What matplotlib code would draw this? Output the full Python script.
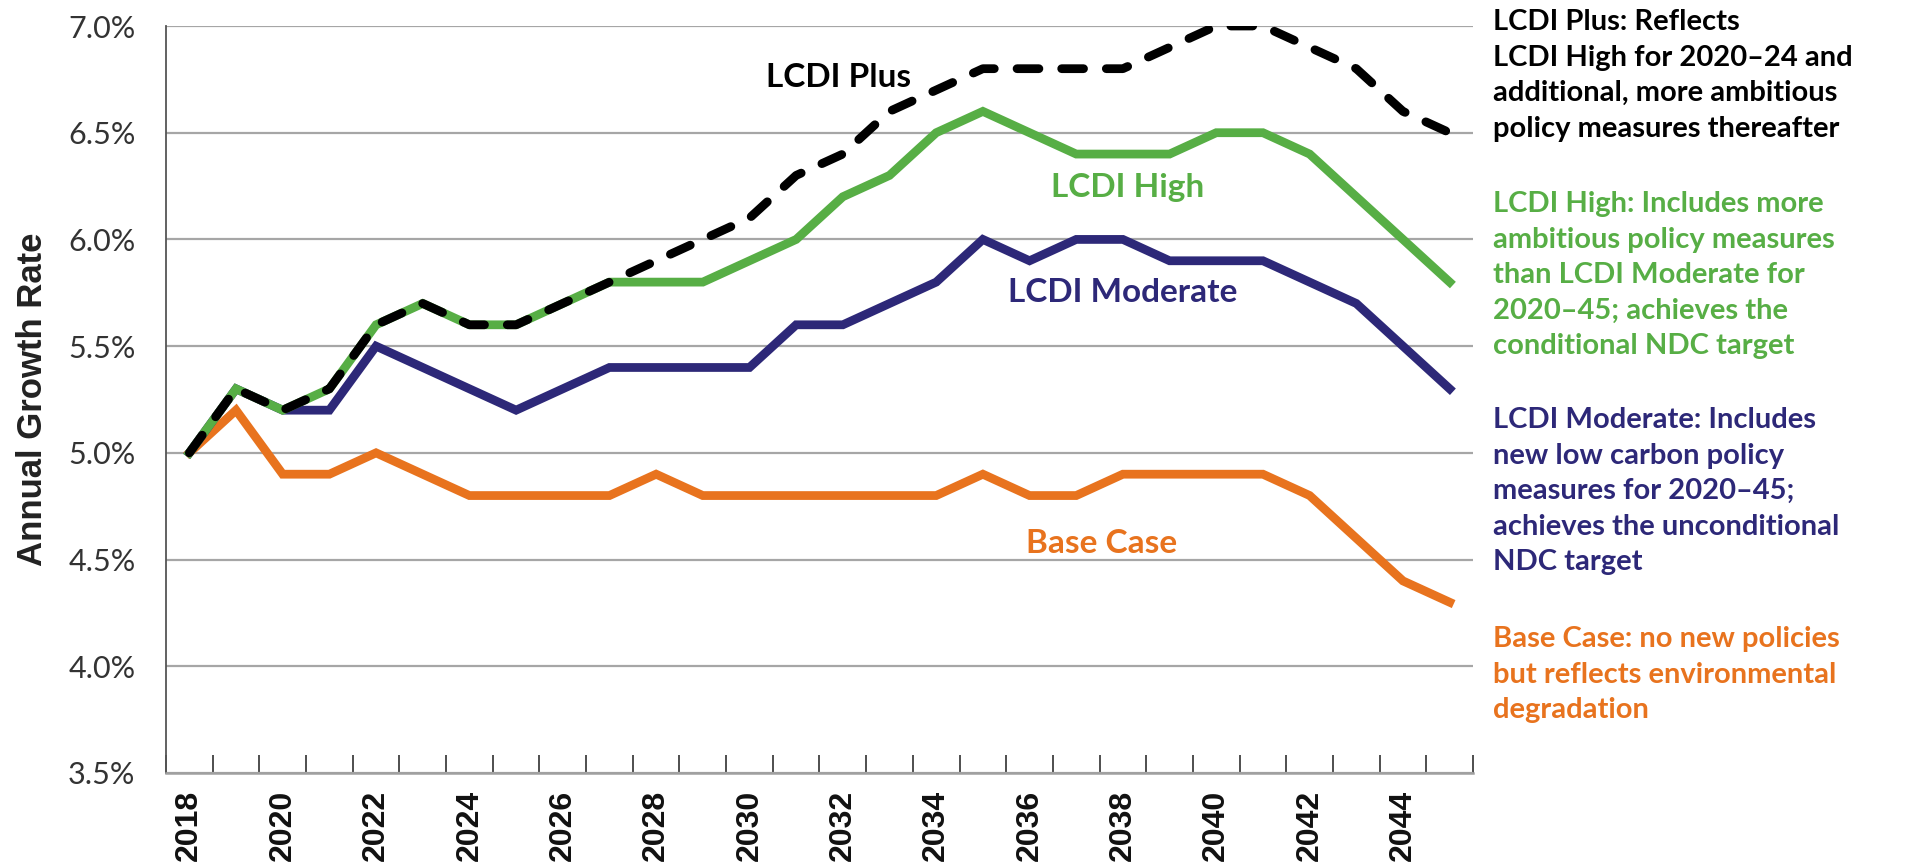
import matplotlib
matplotlib.use("Agg")
import matplotlib.pyplot as plt
from matplotlib.ticker import FixedLocator, FuncFormatter

years = list(range(2018, 2046))
base_case = [5.0, 5.2, 4.9, 4.9, 5.0, 4.9, 4.8, 4.8, 4.8, 4.8, 4.9, 4.8, 4.8, 4.8,
             4.8, 4.8, 4.8, 4.9, 4.8, 4.8, 4.9, 4.9, 4.9, 4.9, 4.8, 4.6, 4.4, 4.3]
lcdi_moderate = [5.0, 5.3, 5.2, 5.2, 5.5, 5.4, 5.3, 5.2, 5.3, 5.4, 5.4, 5.4, 5.4, 5.6,
                 5.6, 5.7, 5.8, 6.0, 5.9, 6.0, 6.0, 5.9, 5.9, 5.9, 5.8, 5.7, 5.5, 5.3]
lcdi_high = [5.0, 5.3, 5.2, 5.3, 5.6, 5.7, 5.6, 5.6, 5.7, 5.8, 5.8, 5.8, 5.9, 6.0,
             6.2, 6.3, 6.5, 6.6, 6.5, 6.4, 6.4, 6.4, 6.5, 6.5, 6.4, 6.2, 6.0, 5.8]
lcdi_plus = [5.0, 5.3, 5.2, 5.3, 5.6, 5.7, 5.6, 5.6, 5.7, 5.8, 5.9, 6.0, 6.1, 6.3,
             6.4, 6.6, 6.7, 6.8, 6.8, 6.8, 6.8, 6.9, 7.0, 7.0, 6.9, 6.8, 6.6, 6.5]

y_ticks = [3.5, 4.0, 4.5, 5.0, 5.5, 6.0, 6.5, 7.0]
x_label_years = list(range(2018, 2046, 2))

series_labels = ["LCDI Plus", "LCDI High", "LCDI Moderate", "Base Case"]
label_pos = [(2031.9, 6.714), (2038.1, 6.199), (2038.0, 5.707), (2037.55, 4.53)]

notes = [
    ["LCDI Plus: Reflects", "LCDI High for 2020\u201324 and",
     "additional, more ambitious", "policy measures thereafter"],
    ["LCDI High: Includes more", "ambitious policy measures",
     "than LCDI Moderate for", "2020\u201345; achieves the",
     "conditional NDC target"],
    ["LCDI Moderate: Includes", "new low carbon policy",
     "measures for 2020\u201345;", "achieves the unconditional", "NDC target"],
    ["Base Case: no new policies", "but reflects environmental", "degradation"],
]

C_ORANGE = "#E8731E"
C_GREEN = "#57AE45"
C_NAVY = "#2D2878"
C_BLACK = "#000000"
colors = [C_BLACK, C_GREEN, C_NAVY, C_ORANGE]

W, H = 1905, 866
fig = plt.figure(figsize=(W / 100, H / 100), dpi=100)
ax = fig.add_axes([166 / W, 1 - 773 / H, (1473 - 166) / W, (773 - 26) / H])

lw = 6.3
ax.plot(years, base_case, color=C_ORANGE, lw=lw, solid_joinstyle="miter", zorder=3)
ax.plot(years, lcdi_moderate, color=C_NAVY, lw=lw, solid_joinstyle="miter", zorder=4)
ax.plot(years, lcdi_high, color=C_GREEN, lw=lw, solid_joinstyle="miter", zorder=5)
ax.plot(years, lcdi_plus, color=C_BLACK, lw=lw, dashes=(2.5, 2.6),
        dash_capstyle="round", dash_joinstyle="round", zorder=6)

ax.set_xlim(2017.5, 2045.5)
ax.set_ylim(3.5, 7.0)

ax.yaxis.set_major_locator(FixedLocator(y_ticks))
ax.yaxis.set_major_formatter(FuncFormatter(lambda v, p: f"{v:.1f}%"))
ax.grid(axis="y", color="#A6A6A6", lw=1.6, zorder=1)
ax.set_axisbelow(True)

ax.xaxis.set_major_locator(FixedLocator(x_label_years))
ax.xaxis.set_minor_locator(FixedLocator([y + 0.5 for y in range(2017, 2046)]))
ax.tick_params(axis="x", which="major", length=0, pad=12, labelsize=23,
               labelrotation=90, labelcolor="#111111")
ax.tick_params(axis="x", which="minor", direction="in", length=13, width=1.3,
               color="#404040")
ax.tick_params(axis="y", which="major", length=0, pad=22, labelsize=22,
               labelcolor="#333333")
for lab in ax.get_xticklabels():
    lab.set_fontfamily("Liberation Sans")
    lab.set_fontweight("bold")
for lab in ax.get_yticklabels():
    lab.set_fontfamily("Lato")

for s in ["top", "right"]:
    ax.spines[s].set_visible(False)
ax.spines["left"].set_color("#555555")
ax.spines["left"].set_linewidth(1.3)
ax.spines["bottom"].set_color("#A0A0A0")
ax.spines["bottom"].set_linewidth(1.8)

ax.set_ylabel("Annual Growth Rate", fontsize=25, fontfamily="Liberation Sans",
              fontweight="bold", color="#222222", labelpad=14)

for text, (xx, yy), c in zip(series_labels, label_pos, colors):
    ax.text(xx, yy, text, ha="center", va="baseline", fontsize=24,
            fontfamily="Lato", fontweight="bold", color=c, zorder=7)

block_baselines = [30, 212, 428, 647]
step = 35.6
for lines, b0, c in zip(notes, block_baselines, colors):
    for i, line in enumerate(lines):
        fig.text(1493 / W, 1 - (b0 + i * step) / H, line, ha="left", va="baseline",
                 fontsize=21, fontfamily="Lato", fontweight="bold", color=c)

fig.savefig("out.png", dpi=100)
